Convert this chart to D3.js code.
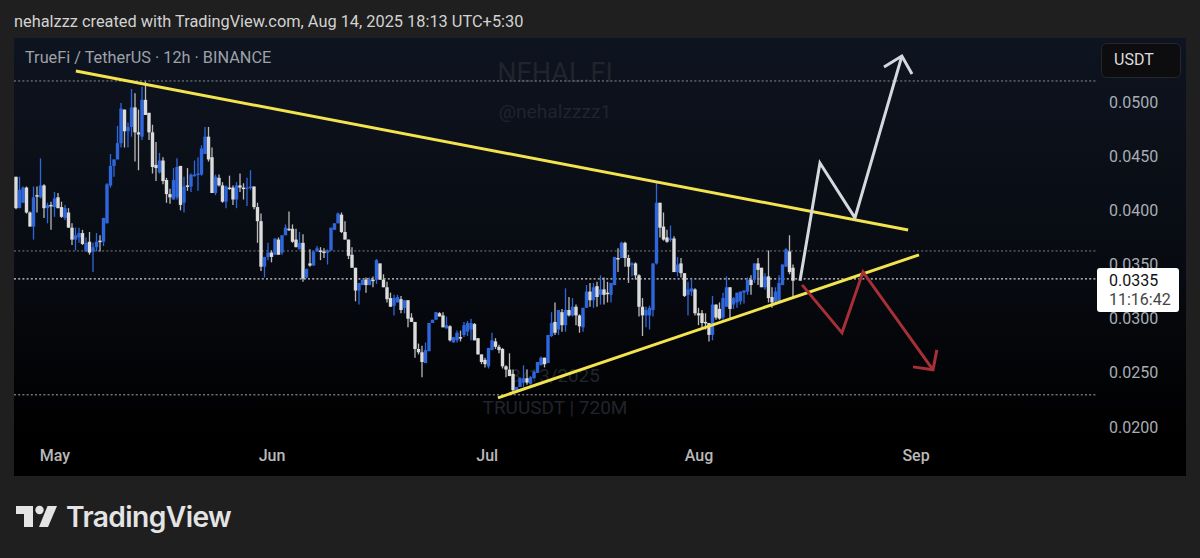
<!DOCTYPE html>
<html><head><meta charset="utf-8">
<script src="https://cdn.jsdelivr.net/npm/d3@7/dist/d3.min.js"></script>
<style>html,body{margin:0;padding:0;background:#1f1f1f;overflow:hidden}svg{display:block}text{font-family:Roboto,sans-serif}</style>
</head><body><svg id="c" width="1200" height="558"></svg>
<script>
// Prices are in ten-thousandths of USDT, one entry per 12h candle
const opens=[431,402,407,421,398,385,414,412,423,402,405,403,412,403,393,398,384,373,375,379,
362,371,362,366,372,371,388,423,441,447,462,493,473,477,495,472,468,502,490,472,
442,435,446,428,415,410,412,441,407,423,422,432,433,433,452,468,449,416,430,423,
408,421,421,410,423,421,420,421,422,403,390,348,357,361,359,373,361,377,383,383,
373,364,370,338,351,349,362,363,362,361,363,382,388,396,380,373,359,347,326,331,
336,331,336,336,351,336,329,319,312,315,318,310,317,301,297,272,269,259,270,296,
299,305,303,291,293,278,280,283,285,288,290,295,282,267,262,256,271,279,274,272,
256,253,249,234,237,241,245,240,245,250,257,264,259,284,297,290,306,294,308,303,
311,303,292,310,325,317,330,322,327,324,322,331,356,356,370,356,350,351,340,311,
303,303,308,351,407,385,375,373,374,343,351,342,322,325,327,305,305,297,296,285,
313,309,301,311,329,313,315,316,324,325,336,336,351,347,329,339,320,316,316,331,
348,362,347];
const highs=[431,431,422,422,399,422,422,448,424,407,408,417,416,408,405,402,388,384,384,382,
375,380,370,379,377,393,425,452,447,478,499,493,481,512,508,493,514,519,490,479,
463,453,449,430,420,439,448,441,431,439,434,446,449,460,477,477,458,433,433,426,
423,432,423,426,434,425,430,437,422,407,397,357,370,363,374,375,377,387,399,387,
383,380,378,346,364,362,367,366,365,364,384,388,398,398,390,373,366,347,333,336,
338,338,339,355,351,341,334,324,322,322,321,317,317,305,297,277,275,278,296,299,
306,306,306,302,294,283,289,289,297,298,300,296,282,267,264,273,287,282,276,273,
257,268,253,237,246,257,253,247,252,260,265,264,285,306,315,308,309,328,320,319,
313,304,310,331,333,333,334,340,338,334,333,357,365,371,371,359,352,352,341,319,
311,312,351,426,407,398,382,386,376,357,356,342,334,336,328,310,308,305,296,321,
313,315,324,339,329,320,324,325,326,338,340,351,356,347,342,363,329,329,340,350,
365,377,350];
const lows=[401,404,407,397,385,373,398,411,393,388,382,394,402,393,391,384,368,363,370,368,
362,359,343,362,362,367,388,421,431,447,458,458,458,468,445,437,465,488,465,434,
427,434,424,407,406,410,410,400,398,418,417,431,418,432,452,445,416,414,422,407,
402,419,405,402,417,410,404,419,401,370,344,338,354,352,359,359,359,377,381,370,
366,364,334,337,348,349,362,354,356,350,363,382,388,379,373,355,347,316,313,331,
324,331,329,332,336,329,315,311,303,315,305,305,292,297,264,267,246,259,270,296,
299,302,292,291,279,278,278,279,283,284,280,280,267,258,255,254,271,272,268,254,
246,247,231,234,237,237,239,239,245,250,257,255,259,283,285,285,288,288,302,302,
294,287,288,310,311,310,311,313,313,315,315,331,343,356,348,333,339,336,302,284,
292,290,302,350,375,372,370,371,343,339,338,320,303,321,303,294,291,290,279,280,
299,299,299,311,299,309,310,313,314,322,322,333,331,329,327,315,310,314,316,331,
348,341,320];
const closes=[402,419,421,398,385,412,413,423,402,405,404,411,402,394,402,384,373,377,379,369,
370,361,366,371,371,393,424,441,447,462,494,473,477,495,472,470,502,488,472,440,
439,446,427,415,412,428,440,405,422,422,433,433,434,457,468,447,416,431,423,408,
422,420,410,423,421,420,421,422,403,390,348,357,361,357,374,359,377,384,382,371,
366,370,337,346,349,362,365,362,361,363,384,388,397,380,373,358,347,326,333,336,
331,336,335,354,336,329,318,311,319,320,308,317,300,297,272,269,260,271,296,299,
306,302,292,294,280,283,287,282,294,296,296,280,267,260,258,273,280,274,271,256,
253,247,234,237,245,245,241,246,251,260,264,258,285,296,287,308,294,308,303,311,
303,293,310,325,317,329,320,327,322,323,333,357,355,370,356,348,351,340,311,303,
308,310,351,407,384,373,371,374,343,350,342,321,327,328,305,303,296,296,285,313,
301,300,319,329,309,319,324,325,326,336,331,351,345,329,339,319,315,325,333,350,
364,343,335];

const priceTicks=[0.05,0.045,0.04,0.035,0.03,0.025,0.02];
const monthLabels=["May","Jun","Jul","Aug","Sep"];
const monthCandleIndex=[11,73,134.5,195,257];
const levels=[{p:519.4,c:"#8a8d92"},{p:362.5,c:"#7b7e83"},{p:336.7,c:"#d4d4d4"},{p:229.7,c:"#a8a8a8"}];

// drawings: [candle index, price]
const trendTop=[[17.1,528.6],[254.9,381.9]];
const trendBottom=[[137.7,226.9],[258,358.9]];
const bullPath=[[224,334.9],[229.7,443.7],[239.7,393],[253.1,542.4]];
const bullHead=[[248,532.3],[253.1,542.4],[256,525.8]];
const bearPath=[[224.6,331.2],[236,286.9],[242,343.2],[262,252.8]];
const bearHead=[[256.3,255.5],[262,252.8],[263.1,271.2]];

const svg=d3.select("#c");
const x=d3.scaleLinear().domain([0,222]).range([16,793]);
const y=d3.scaleLinear().domain([0.05,0.02]).range([102,427]);
const yE=v=>y(v/10000);

const defs=svg.append("defs");
const grad=defs.append("linearGradient").attr("id","pane").attr("x1",0).attr("y1",0).attr("x2",0).attr("y2",1);
grad.append("stop").attr("offset","0%").attr("stop-color","#0e1420");
grad.append("stop").attr("offset","55%").attr("stop-color","#070a10");
grad.append("stop").attr("offset","90%").attr("stop-color","#000");
defs.append("filter").attr("id","soft").append("feGaussianBlur").attr("stdDeviation",0.35);
svg.append("rect").attr("width",1200).attr("height",558).attr("fill","#1f1f1f");
svg.append("rect").attr("x",14).attr("y",38).attr("width",1172).attr("height",438).attr("fill","url(#pane)");

svg.append("text").attr("x",14).attr("y",27).attr("fill","#d2d2d2").attr("font-size",16.35).text("nehalzzz created with TradingView.com, Aug 14, 2025 18:13 UTC+5:30");
svg.append("text").attr("x",25).attr("y",63).attr("fill","#9da1a8").attr("font-size",16.3).text("TrueFi / TetherUS · 12h · BINANCE");

const wm=[["NEHAL.FI",82,27],["@nehalzzzz1",118,19.2],["8/13/2025",382,18.8],["TRUUSDT | 720M",414,19]];
svg.append("g").selectAll("text").data(wm).join("text").attr("x",555).attr("y",d=>d[1]).attr("font-size",d=>d[2]).attr("text-anchor","middle").attr("fill","#20242c").text(d=>d[0]);

svg.append("g").selectAll("line").data(levels).join("line").attr("x1",14).attr("x2",1096)
 .attr("y1",d=>yE(d.p)).attr("y2",d=>yE(d.p)).attr("stroke",d=>d.c).attr("stroke-width",d=>d.p===336.7?1.4:1).attr("stroke-dasharray","2 2.2");

const blue="#2f66dc",white="#dcdcdc";
const candles=closes.map((c,i)=>({i,o:opens[i],h:highs[i],l:lows[i],c}));
const col=d=>d.c>=d.o?blue:white;
const cg=svg.append("g").attr("filter","url(#soft)");
cg.selectAll("line").data(candles).join("line").attr("x1",d=>x(d.i)).attr("x2",d=>x(d.i))
 .attr("y1",d=>yE(d.h)).attr("y2",d=>yE(d.l)).attr("stroke",d=>d.c>=d.o?blue:"#b9b9b9").attr("stroke-width",1.3);
cg.selectAll("rect").data(candles).join("rect").attr("x",d=>x(d.i)-1.7).attr("width",3.4)
 .attr("y",d=>yE(Math.max(d.o,d.c))).attr("height",d=>Math.max(1.5,Math.abs(yE(d.o)-yE(d.c)))).attr("fill",col);

const ln=d3.line().x(d=>x(d[0])).y(d=>yE(d[1]));
const draw=(pts,c,w)=>svg.append("path").attr("d",ln(pts)).attr("fill","none").attr("stroke",c).attr("stroke-width",w).attr("stroke-linejoin","miter");
draw(trendTop,"#f3e34f",3);draw(trendBottom,"#f3e34f",3);
draw(bullPath,"#d5d8de",3);draw(bullHead,"#d5d8de",3);
draw(bearPath,"#a62f38",3);draw(bearHead,"#a62f38",3);

const yAxis=d3.axisRight(y).tickValues(priceTicks).tickFormat(d3.format(".4f")).tickSize(0).tickPadding(0);
const ya=svg.append("g").attr("transform","translate(1109,0)").call(yAxis);
ya.select(".domain").remove();
ya.selectAll("text").attr("fill","#a9adb4").attr("font-size",16).style("font-family","Roboto,sans-serif");

const xAxis=d3.axisBottom(x).tickValues(monthCandleIndex).tickFormat((d,i)=>monthLabels[i]).tickSize(0).tickPadding(0);
const xa=svg.append("g").attr("transform","translate(0,450)").call(xAxis);
xa.select(".domain").remove();
xa.selectAll("text").attr("fill","#b9b9b9").attr("font-size",16).attr("font-weight",500).style("font-family","Roboto,sans-serif");

svg.append("rect").attr("x",1101.5).attr("y",43.5).attr("width",79).attr("height",34).attr("rx",5).attr("fill","#0d0d0f").attr("stroke","#25272c");
svg.append("text").attr("x",1114).attr("y",65).attr("fill","#dcdcdc").attr("font-size",16).text("USDT");

svg.append("rect").attr("x",1097).attr("y",268).attr("width",82).attr("height",44).attr("rx",3).attr("fill","#fff");
svg.append("text").attr("x",1109).attr("y",286).attr("fill","#111").attr("font-size",16).text("0.0335");
svg.append("text").attr("x",1109).attr("y",305).attr("fill","#444").attr("font-size",16).text("11:16:42");

const logo=svg.append("g").attr("fill","#e4e4e4");
logo.append("path").attr("d","M16 506H33V527H24V514H16Z");
logo.append("circle").attr("cx",39.5).attr("cy",510).attr("r",4.2);
logo.append("path").attr("d","M47.5 506H57L48 527H39Z");
svg.append("text").attr("x",66).attr("y",527).attr("fill","#e4e4e4").attr("font-size",28.2).attr("font-weight",600).style("font-family","Inter,sans-serif").attr("letter-spacing","-0.6").text("TradingView");
</script></body></html>
